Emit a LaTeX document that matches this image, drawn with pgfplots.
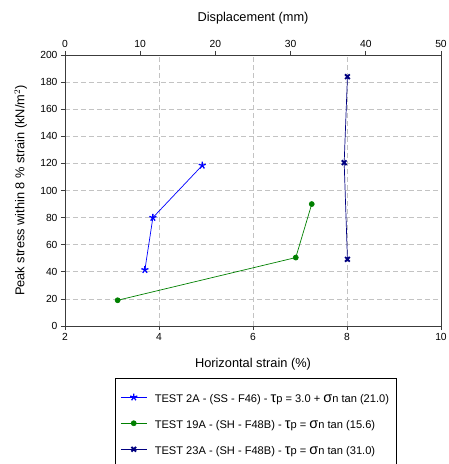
\documentclass[border=0pt]{standalone}
\usepackage{fontspec}
\setmainfont{Liberation Sans}
\usepackage{pgfplots}
\pgfplotsset{compat=1.18}
\definecolor{navyc}{RGB}{0,0,128}
\definecolor{greenc}{RGB}{0,128,0}
\definecolor{gridc}{RGB}{195,195,195}
\definecolor{axc}{RGB}{60,60,60}
\newcommand{\gk}[1]{{\fontsize{14.5}{14.5}\selectfont #1}}
\begin{document}
\begin{tikzpicture}
\useasboundingbox (-65pt,-138pt) rectangle (384pt,326pt);
\begin{axis}[
  scale only axis, width=376pt, height=271pt,
  xmin=2, xmax=10, ymin=0, ymax=200,
  xtick={2,4,6,8,10}, ytick={0,20,...,200},
  xtick pos=bottom, ytick pos=left,
  tick align=outside, major tick length=4pt,
  tick style={axc, line width=0.8pt},
  axis line style={axc, line width=0.9pt},
  /pgf/number format/assume math mode=true,
  tick label style={font=\fontsize{10.3}{12}\selectfont},
  xmajorgrids, ymajorgrids,
  grid style={gridc, dashed, dash pattern=on 5pt off 3pt, line width=0.8pt},
  xlabel={Horizontal strain (\%)},
  ylabel={Peak stress within 8 \% strain (kN/m$^2$)},
  label style={font=\fontsize{12.8}{14}\selectfont},
  xlabel style={at={(axis description cs:0.5,-0.14)}, anchor=center},
  ylabel style={at={(axis description cs:-0.118,0.5)}, anchor=center},
  legend cell align=left,
  legend style={at={(0.133,-0.192)}, anchor=north west,
    draw=black, line width=0.8pt,
    font=\fontsize{11.1}{13}\selectfont,
    inner xsep=5pt, inner ysep=14pt, row sep=12.5pt,
    nodes={inner sep=2pt}},
  legend image code/.code={
    \path[draw=none, fill=none] (0pt,0pt) -- (32pt,0pt);
    \draw[#1, mark repeat=2, mark phase=2] plot coordinates {(0pt,2pt) (13pt,2pt) (26pt,2pt)};
  },
]
\addplot[blue, line width=0.7pt, mark=star, mark size=3.7pt, mark options={line width=1.3pt}]
  coordinates {(3.70,41.5) (3.87,80) (4.92,118.5)};
\addlegendentry{TEST 2A - (SS - F46) - \gk{τ}p = 3.0 + \gk{σ}n tan (21.0)}
\addplot[greenc, line width=0.7pt, mark=*, mark size=2.5pt]
  coordinates {(3.12,19) (6.91,50.5) (7.25,90)};
\addlegendentry{TEST 19A - (SH - F48B) - \gk{τ}p = \gk{σ}n tan (15.6)}
\addplot[navyc, line width=0.7pt, mark=x, mark size=3.3pt, mark options={line width=1.9pt}]
  coordinates {(8.01,184) (7.94,120.5) (8.01,49.2)};
\addlegendentry{TEST 23A - (SH - F48B) - \gk{τ}p = \gk{σ}n tan (31.0)}
\end{axis}
\begin{axis}[
  scale only axis, width=376pt, height=271pt,
  xmin=0, xmax=50, ymin=0, ymax=200,
  axis x line*=top, axis y line=none,
  xtick={0,10,...,50},
  tick align=outside, major tick length=4pt,
  tick style={axc, line width=0.8pt},
  axis line style={axc, line width=0.9pt},
  /pgf/number format/assume math mode=true,
  tick label style={font=\fontsize{10.3}{12}\selectfont},
  xlabel={Displacement (mm)},
  label style={font=\fontsize{12.8}{14}\selectfont},
  xlabel style={at={(axis description cs:0.5,1.137)}, anchor=center},
]
\end{axis}
\end{tikzpicture}
\end{document}
